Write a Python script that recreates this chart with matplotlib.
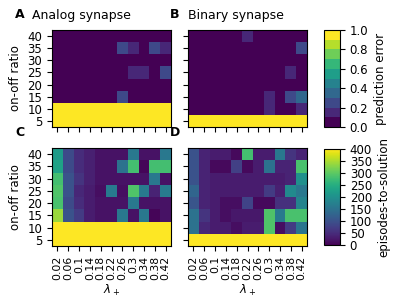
import matplotlib
matplotlib.use('Agg')
import matplotlib.pyplot as plt
import numpy as np

plt.rcParams.update({'font.size': 8.5, 'xtick.labelsize': 7.8, 'ytick.labelsize': 8.5})

lam = ['0.02', '0.06', '0.1', '0.14', '0.18', '0.22', '0.26', '0.3', '0.34', '0.38', '0.42']
ratios = [5, 10, 15, 20, 25, 30, 35, 40]

# prediction error, rows from ratio 5 (bottom) to 40 (top)
err_analog = np.array([
    [1, 1, 1, 1, 1, 1, 1, 1, 1, 1, 1],
    [1, 1, 1, 1, 1, 1, 1, 1, 1, 1, 1],
    [0, 0, 0, 0, 0, 0, 0.25, 0, 0, 0, 0],
    [0, 0, 0, 0, 0, 0, 0, 0, 0, 0, 0],
    [0, 0, 0, 0, 0, 0, 0, 0.15, 0.15, 0, 0.25],
    [0, 0, 0, 0, 0, 0, 0, 0, 0, 0, 0],
    [0, 0, 0, 0, 0, 0, 0.25, 0.15, 0, 0.25, 0.15],
    [0, 0, 0, 0, 0, 0, 0, 0, 0, 0, 0],
])
err_binary = np.array([
    [1, 1, 1, 1, 1, 1, 1, 1, 1, 1, 1],
    [0, 0, 0, 0, 0, 0, 0, 0.15, 0, 0, 0.15],
    [0, 0, 0, 0, 0, 0, 0, 0.15, 0, 0.25, 0.35],
    [0, 0, 0, 0, 0, 0, 0, 0, 0, 0, 0],
    [0, 0, 0, 0, 0, 0, 0, 0, 0, 0.15, 0],
    [0, 0, 0, 0, 0, 0, 0, 0, 0, 0, 0],
    [0, 0, 0, 0, 0, 0, 0, 0, 0, 0, 0.25],
    [0, 0, 0, 0, 0, 0.15, 0, 0, 0, 0, 0],
])

# episodes-to-solution
eps_analog = np.array([
    [400, 400, 400, 400, 400, 400, 400, 400, 400, 400, 400],
    [400, 400, 400, 400, 400, 400, 400, 400, 400, 400, 400],
    [340, 100, 70, 30, 20, 20, 160, 20, 160, 5, 20],
    [285, 90, 50, 30, 20, 20, 20, 160, 20, 20, 20],
    [290, 100, 45, 30, 15, 165, 15, 290, 165, 40, 165],
    [280, 100, 60, 35, 20, 20, 20, 20, 20, 160, 20],
    [230, 90, 50, 35, 20, 20, 150, 280, 5, 280, 280],
    [220, 90, 50, 35, 20, 20, 20, 160, 20, 20, 160],
])
eps_binary = np.array([
    [400, 400, 400, 400, 400, 400, 400, 400, 400, 400, 400],
    [150, 45, 30, 30, 15, 30, 30, 290, 15, 70, 155],
    [150, 60, 30, 15, 25, 25, 25, 290, 165, 285, 285],
    [105, 40, 30, 15, 15, 80, 10, 10, 55, 55, 180],
    [130, 40, 30, 30, 30, 30, 30, 70, 35, 190, 160],
    [100, 40, 30, 30, 30, 30, 30, 30, 30, 40, 200],
    [100, 40, 10, 10, 75, 10, 30, 150, 40, 40, 285],
    [100, 40, 30, 30, 10, 280, 30, 30, 160, 60, 40],
])

fig = plt.figure(figsize=(4, 3), dpi=100)
W, H = 400.0, 300.0
def box(x0, y0, x1, y1):
    return [x0 / W, 1 - y1 / H, (x1 - x0) / W, (y1 - y0) / H]

axA = fig.add_axes(box(52, 30, 171, 127))
axB = fig.add_axes(box(188, 30, 307, 127))
axC = fig.add_axes(box(52, 148, 171, 246))
axD = fig.add_axes(box(188, 148, 307, 246))
cax1 = fig.add_axes(box(324, 30, 340, 127))
cax2 = fig.add_axes(box(324, 149, 340, 245))

cmap10 = plt.get_cmap('viridis', 10)
ext = [-0.5, len(lam) - 0.5, 2.5, 42.5]

imA = axA.imshow(err_analog, origin='lower', aspect='auto', extent=ext, cmap=cmap10, vmin=0, vmax=1)
axB.imshow(err_binary, origin='lower', aspect='auto', extent=ext, cmap=cmap10, vmin=0, vmax=1)
imC = axC.imshow(eps_analog, origin='lower', aspect='auto', extent=ext, cmap='viridis', vmin=0, vmax=400)
axD.imshow(eps_binary, origin='lower', aspect='auto', extent=ext, cmap='viridis', vmin=0, vmax=400)

for ax in [axA, axB, axC, axD]:
    ax.set_xticks(range(len(lam)))
    ax.set_yticks(ratios)
for ax in [axA, axB]:
    ax.set_xticklabels([])
for ax in [axB, axD]:
    ax.set_yticklabels([])
for ax in [axC, axD]:
    ax.set_xticklabels(lam, rotation=90)
    ax.set_xlabel(r'$\lambda_+$', labelpad=2)
for ax in [axA, axC]:
    ax.set_ylabel('on-off ratio')

fig.text(15 / W, 1 - 15 / H, 'A', fontweight='bold', va='center', fontsize=9)
fig.text(32 / W, 1 - 15 / H, 'Analog synapse', va='center', fontsize=9)
fig.text(170 / W, 1 - 15 / H, 'B', fontweight='bold', va='center', fontsize=9)
fig.text(188 / W, 1 - 15 / H, 'Binary synapse', va='center', fontsize=9)
fig.text(15 / W, 1 - 133 / H, 'C', fontweight='bold', va='center', fontsize=9)
fig.text(170 / W, 1 - 133 / H, 'D', fontweight='bold', va='center', fontsize=9)

cb1 = fig.colorbar(imA, cax=cax1, ticks=[0, 0.2, 0.4, 0.6, 0.8, 1.0])
cb1.set_label('prediction error')
cb2 = fig.colorbar(imC, cax=cax2, ticks=range(0, 401, 50))
cb2.set_label('episodes-to-solution')

fig.savefig('out.png', dpi=100)
